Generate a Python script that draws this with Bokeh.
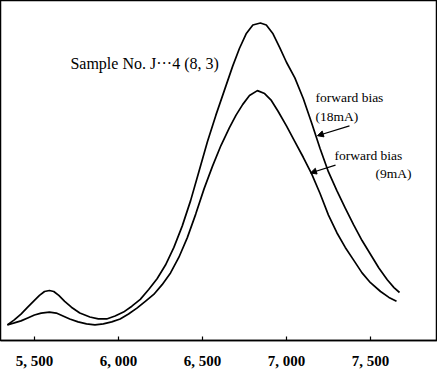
from bokeh.plotting import figure
from bokeh.models import Range1d, FixedTicker, Arrow, NormalHead
from bokeh.core.properties import value
from bokeh.embed import file_html
from bokeh.resources import INLINE

# Wavelength (Angstrom) and relative intensity
wl_18mA = [5339, 5380, 5420, 5460, 5500, 5530, 5560, 5589, 5615, 5645, 5680, 5720,
           5770, 5830, 5880, 5930, 5980, 6030, 6080, 6130, 6180, 6230, 6280, 6330,
           6380, 6430, 6480, 6530, 6580, 6630, 6680, 6720, 6760, 6800, 6845, 6880,
           6920, 6960, 7000, 7050, 7100, 7150, 7200, 7250, 7300, 7350, 7400, 7450,
           7500, 7550, 7600, 7640, 7673]
int_18mA = [16, 21, 27, 34, 41, 46, 50, 51, 50, 46, 40, 34,
            28, 24, 22, 22, 25, 29, 35, 42, 52, 63, 77, 95,
            117, 143, 173, 203, 230, 255, 280, 298, 313, 322, 324, 322,
            313, 299, 284, 268, 247, 222, 196, 172, 153, 135, 118, 102,
            88, 74, 62, 54, 49]

wl_9mA = [5339, 5380, 5420, 5460, 5500, 5540, 5589, 5630, 5670, 5710, 5760, 5810,
          5860, 5910, 5960, 6010, 6060, 6110, 6160, 6210, 6260, 6310, 6360, 6410,
          6460, 6510, 6560, 6610, 6660, 6700, 6740, 6780, 6827, 6870, 6910, 6950,
          7000, 7050, 7100, 7150, 7200, 7250, 7300, 7350, 7400, 7450, 7500, 7560,
          7610, 7655]
int_9mA = [16, 18, 20, 23, 26, 28, 29, 28, 25, 22, 19, 17,
           16, 17, 19, 22, 27, 33, 40, 47, 57, 69, 85, 105,
           129, 155, 178, 199, 217, 230, 241, 250, 255, 252, 245, 234,
           219, 203, 187, 170, 150, 128, 110, 95, 82, 69, 59, 50,
           44, 40]

tick_values = [5500, 6000, 6500, 7000, 7500]
tick_labels = ["5, 500", "6, 000", "6, 500", "7, 000", "7, 500"]

sample_text = "Sample No. J\u00b7\u00b7\u00b74 (8, 3)"
label_18 = ["forward bias", "(18mA)"]
label_9 = ["forward bias", "(9mA)"]

SERIF = "Liberation Serif"

p = figure(width=437, height=371, output_backend="svg", toolbar_location=None,
           x_range=Range1d(5298, 7899), y_range=Range1d(0, 347),
           min_border_left=0, min_border_right=0, min_border_top=0, min_border_bottom=0)
p.background_fill_color = "white"
p.border_fill_color = "white"
p.grid.visible = False
p.yaxis.visible = False
p.outline_line_color = "black"
p.outline_line_width = 1.5

ax = p.xaxis[0]
ax.ticker = FixedTicker(ticks=tick_values)
ax.major_label_overrides = {v: l for v, l in zip(tick_values, tick_labels)}
ax.major_tick_in = 4
ax.major_tick_out = 0
ax.minor_tick_line_color = None
ax.axis_line_color = "black"
ax.axis_line_width = 1.5
ax.major_tick_line_color = "black"
ax.major_tick_line_width = 1.2
ax.major_label_text_font = SERIF
ax.major_label_text_font_style = "bold"
ax.major_label_text_font_size = "15px"
ax.major_label_text_color = "black"
ax.major_label_standoff = 12

p.line(wl_18mA, int_18mA, line_color="black", line_width=1.7)
p.line(wl_9mA, int_9mA, line_color="black", line_width=1.7)

p.text(x=[5714], y=[283], text=[sample_text], text_font=value(SERIF),
       text_font_size="16px", text_color="black", text_baseline="middle", text_align="left")
font_kw = dict(text_font=value(SERIF), text_font_size="13.5px", text_color="black",
               text_baseline="middle", text_align="left")
p.text(x=[7173, 7173], y=[248, 229], text=label_18, **font_kw)
p.text(x=[7286, 7530], y=[189, 170], text=label_9, **font_kw)

p.add_layout(Arrow(end=NormalHead(size=6, fill_color="black", line_color="black"),
                   x_start=7375, y_start=219, x_end=7184, y_end=209,
                   line_color="black", line_width=1.2))
p.add_layout(Arrow(end=NormalHead(size=6, fill_color="black", line_color="black"),
                   x_start=7292, y_start=179, x_end=7143, y_end=171,
                   line_color="black", line_width=1.2))

open("out.html", "w").write(file_html(p, INLINE))
